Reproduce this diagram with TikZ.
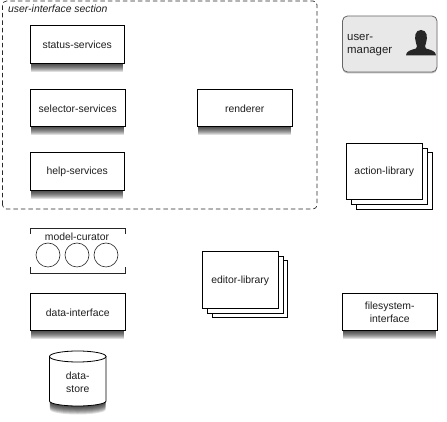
\documentclass[tikz,border=0pt]{standalone}
\usepackage{fontspec}
\setmainfont{Liberation Sans}
\usetikzlibrary{shadows}
\tikzset{
  softlayer/.style={general shadow={shadow xshift=0pt,shadow yshift=-#1pt,shadow scale=.985,fill=black,opacity=.13}},
  softshadow/.style={softlayer=9,softlayer=8,softlayer=7,softlayer=6,softlayer=5,softlayer=4,softlayer=3,softlayer=2,softlayer=1},
  servicebox/.style={fill=white, draw=black, line width=.8pt, softshadow},
  stackbox/.style={fill=white, draw=black, line width=.7pt},
  boxlabel/.style={font=\fontsize{10.4}{13}\selectfont, text=labelcolor, align=center, yshift=-1pt}
}
\begin{document}
\begin{tikzpicture}[x=1pt, y=1pt]
            % Define the colors
            \definecolor{labelcolor}{RGB}{30, 30, 30}
            \definecolor{managercolor}{RGB}{232, 232, 232}
            \definecolor{dashedlinecolor}{RGB}{40, 40, 40}

            \useasboundingbox (0,0) rectangle (447,422);

            % Draw the dashed boundary of the user-interface section
            \draw[dash pattern=on 4.5pt off 3pt, draw=dashedlinecolor, line width=.7pt, rounded corners=4pt] (2.5,213) rectangle (317,421);
            \node[boxlabel, font=\fontsize{10.4}{12}\selectfont\itshape, anchor=west, inner sep=0pt] (sectionlabel) at (8,414) {user-interface section};

            % Draw the services
            \filldraw[servicebox] (30.5,396.5) rectangle (124,359) node[pos=.5, boxlabel] (status) {status-services};
            \filldraw[servicebox] (30.5,332.5) rectangle (125,295.5) node[pos=.5, boxlabel] (selector) {selector-services};
            \filldraw[servicebox] (30.5,269.5) rectangle (124,232) node[pos=.5, boxlabel] (help) {help-services};

            % Draw the renderer
            \filldraw[servicebox] (197.5,332.5) rectangle (292,295.5) node[pos=.5, boxlabel] (renderer) {renderer};

            % Draw the user manager
            \filldraw[fill=managercolor, draw=black!60, line width=.8pt, rounded corners=5pt, general shadow={shadow xshift=0pt,shadow yshift=-1.5pt,fill=black,opacity=.25}] (342.5,406) rectangle (437,350);
            \node[boxlabel, font=\fontsize{11.4}{13.5}\selectfont, align=left, anchor=west, inner sep=0pt] (manager) at (347,378) {user-\\manager};
            \fill[black!85] (406,366.5) .. controls (406,371) and (411,372) .. (416,373.5) .. controls (417.5,374.5) and (417,376.5) .. (416,379) .. controls (414,385) and (415,392) .. (421,392) .. controls (427,392) and (428,385) .. (426,379) .. controls (425,376.5) and (424.5,374.5) .. (426,373.5) .. controls (431,372) and (436,371) .. (436,366.5) -- cycle;

            % Draw the action library
            \filldraw[stackbox] (356,270) rectangle (432,213);
            \filldraw[stackbox] (351,274) rectangle (427,218);
            \filldraw[stackbox] (346.5,278.5) rectangle (422,223) node[pos=.5, boxlabel] (action) {action-library};

            % Draw the model curator
            \draw[line width=.7pt, draw=black!85] (30.5,188) -- (30.5,193.5) -- (125,193.5) -- (125,188);
            \draw[line width=.7pt, draw=black!85] (30.5,155) -- (30.5,149) -- (125,149) -- (125,155);
            \node[boxlabel] (curator) at (77,186) {model-curator};
            \foreach \cx in {48,77,106}
              \draw[line width=.6pt, draw=black!85] (\cx,167) circle (12pt);

            % Draw the data interface
            \filldraw[servicebox] (30.5,128.5) rectangle (125,92) node[pos=.5, boxlabel] (interface) {data-interface};

            % Draw the data store
            \filldraw[servicebox] (49.5,65.5) -- (49.5,21) arc[start angle=180, end angle=360, x radius=28.25pt, y radius=5pt] -- (106,65.5) -- cycle;
            \draw[fill=white, draw=black, line width=.8pt] (77.75,65.5) ellipse (28.25pt and 5.5pt);
            \node[boxlabel] (store) at (77.75,41) {data-\\store};

            % Draw the editor library
            \filldraw[stackbox] (212,162) rectangle (287,105);
            \filldraw[stackbox] (207,166) rectangle (283,109);
            \filldraw[stackbox] (202.5,170.5) rectangle (278,114) node[pos=.5, boxlabel] (editor) {editor-library};

            % Draw the filesystem interface
            \filldraw[servicebox] (342.5,128.5) rectangle (437,92) node[pos=.5, boxlabel] (filesystem) {filesystem-\\interface};

        \end{tikzpicture}
\end{document}
